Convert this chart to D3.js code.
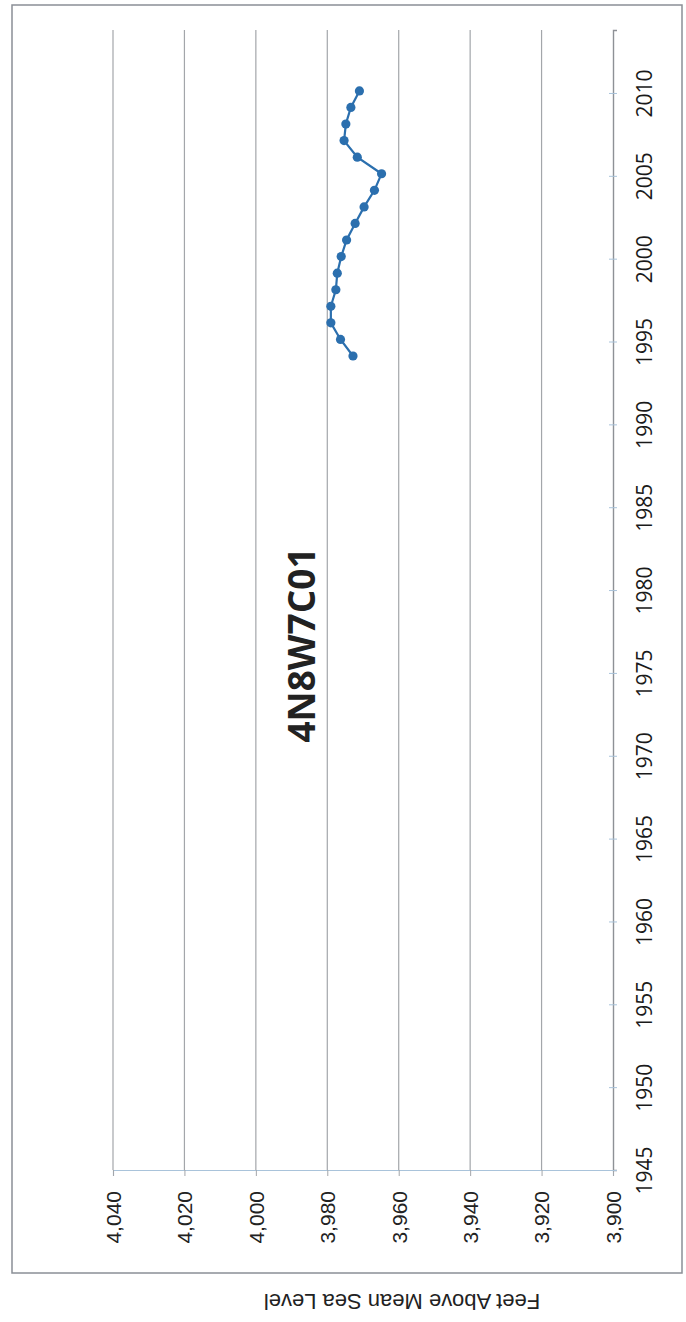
<!DOCTYPE html>
<html>
<head>
<meta charset="utf-8">
<script src="https://cdn.jsdelivr.net/npm/d3@7"></script>
<style>
  html, body { margin: 0; padding: 0; background: #fff; }
  svg { display: block; }
</style>
</head>
<body>
<div id="chart"></div>
<script>
// Well 4N8W7C01 — water level, feet above mean sea level (page scanned sideways)
const years = [1994, 1995, 1996, 1997, 1998, 1999, 2000, 2001, 2002,
               2003, 2004, 2005, 2006, 2007, 2008, 2009, 2010];
const levels = [3972.8, 3976.3, 3979.0, 3979.0, 3977.6, 3977.2, 3976.1, 3974.6, 3972.2,
                3969.7, 3966.8, 3964.8, 3971.6, 3975.3, 3974.8, 3973.4, 3971.0];
const measureMonth = 2; // readings taken around February
const yearTicks = [1945, 1950, 1955, 1960, 1965, 1970, 1975, 1980, 1985, 1990, 1995, 2000, 2005, 2010];
const levelTicks = [4040, 4020, 4000, 3980, 3960, 3940, 3920, 3900];
const chartTitle = '4N8W7C01';
const levelTitle = 'Feet Above Mean Sea Level';

const W = 686, H = 1322;
const svg = d3.select('#chart').append('svg')
    .attr('width', W).attr('height', H);

// time runs bottom -> top, level runs left(high) -> right(low)
const t = d3.scaleLinear().domain([1945, 2013.8]).range([1170, 30]);
const v = d3.scaleLinear().domain([4040, 3900]).range([113, 613]);

// outer frame
svg.append('rect')
    .attr('x', 12).attr('y', 5)
    .attr('width', 670).attr('height', 1268)
    .attr('fill', 'none')
    .attr('stroke', '#8a8f96')
    .attr('stroke-width', 1.5);

// gridlines
svg.append('g')
    .selectAll('line')
    .data(levelTicks.filter(d => d !== 3900))
    .join('line')
    .attr('x1', d => v(d)).attr('x2', d => v(d))
    .attr('y1', t.range()[1]).attr('y2', t(1945))
    .attr('stroke', '#a3a6aa')
    .attr('stroke-width', 1.2);

// level axis (horizontal, bottom)
const levelAxis = svg.append('g')
    .attr('transform', `translate(0,${t(1945)})`)
    .call(d3.axisBottom(v).tickValues(levelTicks).tickSize(6).tickFormat(d3.format(',')));
levelAxis.select('.domain').attr('stroke', '#a9c3da').attr('stroke-width', 1.2);
levelAxis.selectAll('.tick line').attr('stroke', '#a3a6aa');
levelAxis.selectAll('.tick text')
    .attr('transform', 'rotate(-90)')
    .attr('text-anchor', 'end')
    .attr('x', -21).attr('y', 0).attr('dy', '0.35em')
    .attr('fill', '#222')
    .style('font-family', '"Liberation Sans", Arial, sans-serif')
    .style('font-size', '21px');

// time axis (vertical, right)
const timeAxis = svg.append('g')
    .attr('transform', `translate(${v(3900)},0)`)
    .call(d3.axisRight(t).tickValues(yearTicks).tickSize(4).tickFormat(d3.format('d')));
timeAxis.select('.domain').attr('stroke', '#8e9196').attr('stroke-width', 1.4);
timeAxis.selectAll('.tick line').attr('stroke', '#a9c3da').attr('x1', -4);
timeAxis.selectAll('.tick text')
    .attr('transform', 'rotate(-90)')
    .attr('text-anchor', 'middle')
    .attr('x', 0).attr('y', 32).attr('dy', '0.35em')
    .attr('fill', '#1a1a1a')
    .style('font-family', '"Open Sans", sans-serif')
    .style('font-size', '21px');

// data
const pts = years.map((y, i) => ({ x: y + (measureMonth - 0.5) / 12, level: levels[i] }));
const line = d3.line().x(d => v(d.level)).y(d => t(d.x));
svg.append('path')
    .datum(pts)
    .attr('d', line)
    .attr('fill', 'none')
    .attr('stroke', '#2b6fae')
    .attr('stroke-width', 2.2);
svg.append('g')
    .selectAll('circle')
    .data(pts)
    .join('circle')
    .attr('cx', d => v(d.level))
    .attr('cy', d => t(d.x))
    .attr('r', 4.6)
    .attr('fill', '#2b6fae');

// chart title
svg.append('text')
    .attr('transform', 'translate(302,645) rotate(-90)')
    .attr('text-anchor', 'middle')
    .attr('dy', '0.35em')
    .attr('fill', '#222')
    .style('font-family', '"Open Sans", sans-serif')
    .style('font-weight', 'bold')
    .style('font-size', '37px')
    .text(chartTitle);

// level title, upside down below the frame
svg.append('text')
    .attr('transform', 'translate(402,1302) rotate(180)')
    .attr('text-anchor', 'middle')
    .attr('dy', '0.35em')
    .attr('fill', '#222')
    .style('font-family', '"Liberation Sans", Arial, sans-serif')
    .style('font-size', '22px')
    .text(levelTitle);
</script>
</body>
</html>
